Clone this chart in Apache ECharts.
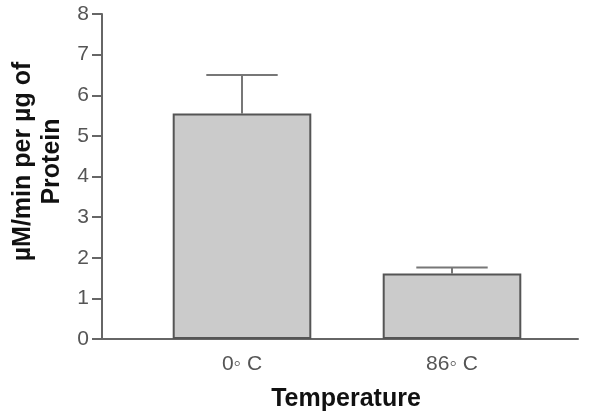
<!DOCTYPE html>
<html>
<head>
<meta charset="utf-8">
<script src="https://cdn.jsdelivr.net/npm/echarts@6/dist/echarts.min.js"></script>
<style>
  html, body { margin: 0; padding: 0; background: #fff; }
  #chart { width: 601px; height: 416px; }
</style>
</head>
<body>
<div id="chart"></div>
<script>
  // data
  const categories = ['0\u25E6 C', '86\u25E6 C']
  const means = [5.55, 1.61]
  const errUpper = [6.5, 1.76]
  const yTicks = [0, 1, 2, 3, 4, 5, 6, 7, 8]

  const font = 'Liberation Sans, Arial, sans-serif'
  const axisColor = '#666'

  const chart = echarts.init(document.getElementById('chart'))

  const option = {
    animation: false,
    // grid 0: full axis frame, grid 1: bars (inset so bars sit like in prism)
    grid: [
      { left: 102, right: 23, top: 14, bottom: 77, outerBoundsMode: 'none', containLabel: false },
      { left: 137, right: 44, top: 14, bottom: 77, outerBoundsMode: 'none', containLabel: false },
    ],
    xAxis: [
      {
        gridIndex: 0,
        type: 'value',
        min: 0,
        max: 1,
        axisLine: { show: true, lineStyle: { color: axisColor, width: 2 } },
        axisTick: { show: false },
        axisLabel: { show: false },
        splitLine: { show: false },
        name: 'Temperature',
        nameLocation: 'middle',
        nameGap: 48,
        nameTextStyle: { fontFamily: font, fontSize: 25, fontWeight: 'bold', color: '#111', padding: [0, 0, 0, 12] },
      },
      {
        gridIndex: 1,
        type: 'category',
        data: categories,
        axisLine: { show: false },
        axisTick: { show: false },
        axisLabel: { fontFamily: font, fontSize: 21, color: '#555', margin: 15 },
      },
    ],
    yAxis: [
      {
        gridIndex: 0,
        type: 'value',
        min: 0,
        max: 8,
        interval: 1,
        axisLine: { show: true, lineStyle: { color: axisColor, width: 2 } },
        axisTick: { show: true, length: 10, lineStyle: { color: axisColor, width: 2 } },
        axisLabel: {
          fontFamily: font, fontSize: 21, color: '#555', margin: 13,
          formatter: v => (yTicks.indexOf(v) >= 0 ? String(v) : ''),
        },
        splitLine: { show: false },
        name: '\u00B5M/min per \u00B5g of\nProtein',
        nameLocation: 'middle',
        nameGap: 35,
        nameRotate: 90,
        nameTextStyle: { fontFamily: font, fontSize: 25, fontWeight: 'bold', color: '#111', lineHeight: 29, padding: [0, 0, 0, 30] },
      },
      {
        gridIndex: 1,
        type: 'value',
        min: 0,
        max: 8,
        interval: 1,
        show: false,
      },
    ],
    series: [
      {
        type: 'bar',
        xAxisIndex: 1,
        yAxisIndex: 1,
        data: means,
        barWidth: '66%',
        itemStyle: { color: '#cbcbcb', borderColor: '#555', borderWidth: 2 },
        z: 2,
      },
      {
        type: 'custom',
        xAxisIndex: 1,
        yAxisIndex: 1,
        z: 1,
        data: means.map((m, i) => [i, m, errUpper[i]]),
        renderItem: function (params, api) {
          const base = api.coord([api.value(0), api.value(1)])
          const top = api.coord([api.value(0), api.value(2)])
          const half = api.size([1, 0])[0] * 0.17
          const style = { stroke: '#777', lineWidth: 2 }
          return {
            type: 'group',
            children: [
              { type: 'line', shape: { x1: base[0], y1: base[1], x2: top[0], y2: top[1] }, style },
              { type: 'line', shape: { x1: top[0] - half, y1: top[1], x2: top[0] + half, y2: top[1] }, style },
            ],
          }
        },
      },
    ],
  }

  chart.setOption(option)
</script>
</body>
</html>
